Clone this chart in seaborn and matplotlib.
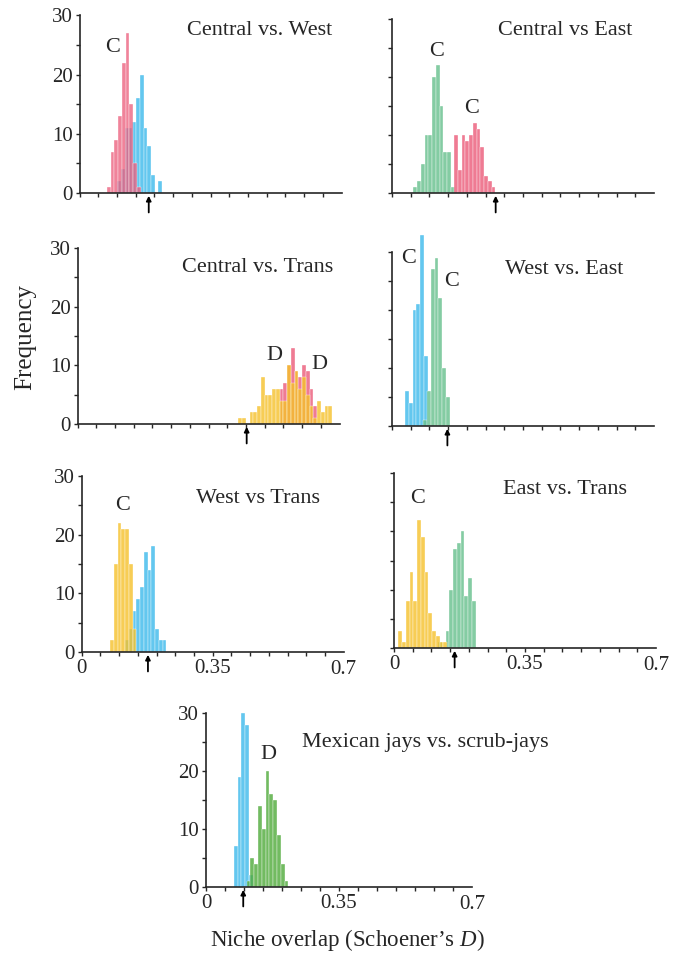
import numpy as np
import pandas as pd
import matplotlib.pyplot as plt
import seaborn as sns

sns.set_style("white")
plt.rcParams['font.family'] = ['Liberation Serif', 'DejaVu Serif']
plt.rcParams['mathtext.fontset'] = 'custom'
plt.rcParams['mathtext.rm'] = 'Liberation Serif'
plt.rcParams['mathtext.it'] = 'Liberation Serif:italic'

BIN = 0.01

# Central vs. West
cw_central_start = 0.073
cw_central = [1, 7, 9, 13, 22, 27, 15, 5, 1]
cw_west_start = 0.101
cw_west = [2, 4, 11, 11, 12, 16, 20, 11, 8, 3, 0, 2]
cw_obs = 0.185

# Central vs East
ce_east_start = 0.057
ce_east = [1, 2, 5, 10, 10, 20, 22, 15, 7, 7, 1]
ce_central_start = 0.166
ce_central = [10, 4, 10, 9, 10, 12, 11, 8, 3, 2, 1]
ce_obs = 0.277

# Central vs. Trans
ct_central_start = 0.540
ct_central = [6, 7, 10, 13, 9, 8, 10, 9, 6, 3]
ct_trans_start = 0.430
ct_trans = [1, 1, 0, 2, 2, 3, 8, 5, 5, 6, 6, 4, 4, 10, 7, 9, 6, 8, 5, 3, 1, 4, 2, 3, 3]
ct_obs = 0.452

# West vs. East
we_west_start = 0.035
we_west = [6, 4, 20, 21, 33, 12]
we_east_start = 0.084
we_east = [1, 6, 27, 29, 22, 10, 5]
we_obs = 0.148

# West vs Trans
wt_trans_start = 0.076
wt_trans = [2, 15, 22, 21, 21, 15, 4]
wt_west_start = 0.116
wt_west = [2, 4, 7, 9, 11, 17, 14, 18, 4, 2, 2]
wt_obs = 0.177

# East vs. Trans
et_trans_start = 0.012
et_trans = [3, 1, 8, 13, 8, 22, 19, 13, 6, 3, 2, 1, 1]
et_east_start = 0.118
et_east = [1, 0, 3, 10, 17, 18, 20, 9, 12, 8]
et_obs = 0.162

# Mexican jays vs. scrub-jays
ms_mex_start = 0.073
ms_mex = [7, 19, 30, 28, 2]
ms_scrub_start = 0.107
ms_scrub = [1, 5, 4, 14, 10, 20, 16, 15, 9, 4, 1]
ms_obs = 0.098

RED = '#ec5a78'
BLUE = '#3cb9eb'
GREEN = '#66c08c'
YELLOW = '#f5c12a'
DGREEN = '#4faa3a'
INK = '#262626'

W, H = 683, 956
fig = plt.figure(figsize=(W / 100, H / 100), dpi=100)


def make_ax(left, right, top, bottom):
    return fig.add_axes([left / W, 1 - bottom / H, (right - left) / W, (bottom - top) / H])


def hist(ax, start, counts, color, alpha=0.8):
    n = len(counts)
    df = pd.DataFrame({'D': start + BIN * (np.arange(n) + 0.5),
                       'count': np.array(counts, dtype=float)})
    sns.histplot(data=df, x='D', weights='count', binwidth=BIN,
                 binrange=(start, start + BIN * n), color=color, alpha=alpha,
                 edgecolor='white', linewidth=0.25, ax=ax)


def style(ax, obs, xlabels, ylabels):
    ax.set_xlim(0, 0.7)
    ax.set_ylim(0, 30)
    for p in ax.patches:
        p.set_clip_on(False)
    sns.despine(ax=ax)
    for s in ['left', 'bottom']:
        ax.spines[s].set_color(INK)
        ax.spines[s].set_linewidth(1.2)
    xt = np.arange(0, 0.70, 0.05)
    ax.set_xticks(xt)
    ax.set_xticklabels(['0' if abs(t) < 1e-9 else ('0.35' if abs(t - 0.35) < 1e-9 else '')
                        for t in xt])
    ax.set_yticks([0, 5, 10, 15, 20, 25, 30])
    ax.set_yticklabels(['0', '', '10', '', '20', '', '30'])
    ax.tick_params(direction='out', length=3, width=1, color=INK, labelsize=15,
                   labelcolor=INK, pad=2, left=True, bottom=True)
    if not xlabels:
        ax.set_xticklabels([])
    else:
        ax.text(0.7, -0.045, '0.7', transform=ax.get_xaxis_transform(), ha='center',
                va='top', fontsize=15, color=INK)
    if not ylabels:
        ax.set_yticklabels([])
    ax.set_xlabel('')
    ax.set_ylabel('')
    ax.annotate('', xy=(obs, -2), xycoords=('data', 'axes points'),
                xytext=(obs, -14), textcoords=('data', 'axes points'),
                arrowprops=dict(arrowstyle='-|>', color='black', lw=1.3,
                                mutation_scale=7, shrinkA=0, shrinkB=0),
                annotation_clip=False)


def label(ax, x, y, s, ha='center'):
    ax.text(x, y, s, ha=ha, va='center', fontsize=16, color=INK, clip_on=False)


# Central vs. West
ax = make_ax(79.5, 341.5, 15.3, 193)
hist(ax, cw_west_start, cw_west, BLUE)
hist(ax, cw_central_start, cw_central, RED, 0.75)
style(ax, cw_obs, False, True)
label(ax, 0.675, 27.5, 'Central vs. West', 'right')
label(ax, 0.088, 24.5, 'C')

# Central vs East
ax = make_ax(392, 654, 19, 193)
hist(ax, ce_east_start, ce_east, GREEN)
hist(ax, ce_central_start, ce_central, RED)
style(ax, ce_obs, False, False)
label(ax, 0.641, 28.1, 'Central vs East', 'right')
label(ax, 0.1195, 24.4, 'C')
label(ax, 0.213, 14.6, 'C')

# Central vs. Trans
ax = make_ax(77.5, 339.5, 248, 424)
hist(ax, ct_central_start, ct_central, RED)
hist(ax, ct_trans_start, ct_trans, YELLOW, 0.8)
style(ax, ct_obs, False, True)
label(ax, 0.683, 26.6, 'Central vs. Trans', 'right')
label(ax, 0.525, 11.6, 'D')
label(ax, 0.645, 10.2, 'D')

# West vs. East
ax = make_ax(392, 654, 252, 426)
hist(ax, we_west_start, we_west, BLUE)
hist(ax, we_east_start, we_east, GREEN)
style(ax, we_obs, False, False)
label(ax, 0.617, 26.9, 'West vs. East', 'right')
label(ax, 0.0435, 28.9, 'C')
label(ax, 0.1595, 24.9, 'C')

# West vs Trans
ax = make_ax(81.7, 343.7, 476, 652)
hist(ax, wt_west_start, wt_west, BLUE)
hist(ax, wt_trans_start, wt_trans, YELLOW)
style(ax, wt_obs, True, True)
label(ax, 0.637, 26.2, 'West vs Trans', 'right')
label(ax, 0.109, 25.0, 'C')

# East vs. Trans
ax = make_ax(394, 656, 473, 648)
hist(ax, et_east_start, et_east, GREEN)
hist(ax, et_trans_start, et_trans, YELLOW)
style(ax, et_obs, True, False)
label(ax, 0.622, 27.1, 'East vs. Trans', 'right')
label(ax, 0.0628, 25.6, 'C')

# Mexican jays vs. scrub-jays
ax = make_ax(206, 472, 713, 887)
hist(ax, ms_mex_start, ms_mex, BLUE)
hist(ax, ms_scrub_start, ms_scrub, DGREEN)
style(ax, ms_obs, True, True)
label(ax, 0.252, 25.0, 'Mexican jays vs. scrub-jays', 'left')
label(ax, 0.163, 22.9, 'D')

fig.text(25 / W, 1 - 337 / H, 'Frequency', rotation=90, ha='center', va='center',
         fontsize=18, color=INK)
fig.text(347 / W, 1 - 940 / H, 'Niche overlap (Schoener\u2019s $D$)', ha='center',
         va='center', fontsize=16.5, color=INK)

fig.savefig('out.png', dpi=100)
